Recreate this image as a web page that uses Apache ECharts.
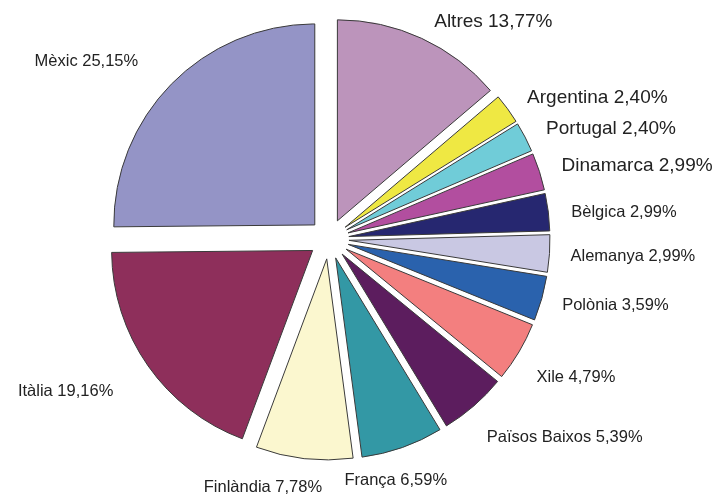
<!DOCTYPE html>
<html>
<head>
<meta charset="utf-8">
<script src="https://cdn.jsdelivr.net/npm/echarts@6/dist/echarts.min.js"></script>
<style>
  html, body { margin: 0; padding: 0; background: #fff; }
  #chart { width: 721px; height: 501px; }
</style>
</head>
<body>
<div id="chart"></div>
<script>
// dades
var countries = ['Altres', 'Argentina', 'Portugal', 'Dinamarca', 'Bèlgica', 'Alemanya', 'Polònia',
                 'Xile', 'Països Baixos', 'França', 'Finlàndia', 'Itàlia', 'Mèxic'];
var shares = [13.77, 2.40, 2.40, 2.99, 2.99, 2.99, 3.59, 4.79, 5.39, 6.59, 7.78, 19.16, 25.15];

// estil
var palette = ['#bc94bb', '#efe843', '#70ccd8', '#b24e9f', '#262770', '#c9c8e3', '#2a62ad',
               '#f37f7f', '#5c1d5e', '#3398a5', '#fbf7cf', '#8e2f5b', '#9494c6'];
var bigLabels = ['Altres', 'Argentina', 'Portugal', 'Dinamarca'];
// petits desplaçaments de les etiquetes (px)
var labelShift = {
    'Bèlgica': [0, 3],
    'Alemanya': [-2, 2],
    'Polònia': [-2, 2],
    'Xile': [-3, 16],
    'Països Baixos': [-4, 18],
    'França': [-69, 16],
    'Finlàndia': [25, 11],
    'Itàlia': [-15, 15],
    'Mèxic': [-16, -9]
};

var chart = echarts.init(document.getElementById('chart'));

var pieData = countries.map(function (name, i) {
    return {
        name: name,
        value: shares[i],
        selected: true,
        label: { fontSize: bigLabels.indexOf(name) >= 0 ? 19 : 16.5 }
    };
});

var option = {
    animation: false,
    color: palette,
    series: [{
        type: 'pie',
        center: [329, 239],
        radius: 201,
        startAngle: 90,
        clockwise: true,
        selectedMode: 'multiple',
        selectedOffset: 20,
        avoidLabelOverlap: false,
        emphasis: { disabled: true },
        itemStyle: {
            borderColor: '#3a3a3a',
            borderWidth: 1
        },
        label: {
            show: true,
            position: 'outside',
            fontFamily: 'Liberation Sans',
            color: '#222',
            formatter: function (p) {
                return p.name + ' ' + p.value.toFixed(2).replace('.', ',') + '%';
            }
        },
        labelLine: { show: false, length: 18, length2: 0 },
        labelLayout: function (p) {
            var s = labelShift[countries[p.dataIndex]];
            return s ? { dx: s[0], dy: s[1] } : {};
        },
        data: pieData
    }]
};

chart.setOption(option);
</script>
</body>
</html>
